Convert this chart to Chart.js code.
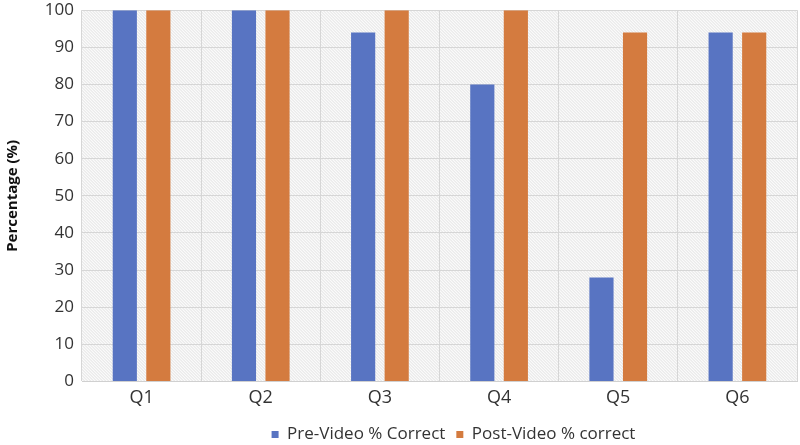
<!DOCTYPE html>
<html><head><meta charset="utf-8">
<script src="https://cdn.jsdelivr.net/npm/chart.js@4.4.0/dist/chart.umd.min.js"></script>
<style>html,body{margin:0;padding:0;background:#fff;overflow:hidden;height:445px}#w{width:800px;height:461px;margin-top:-8px}</style>
</head><body><div id="w"><canvas id="c"></canvas></div>
<script>
const categories = ["Q1","Q2","Q3","Q4","Q5","Q6"];
const preVideo = [100,100,94,80,28,94];
const postVideo = [100,100,100,100,94,94];
const seriesNames = ["Pre-Video % Correct","Post-Video % correct"];

const hatch = {
  id:'hatch',
  beforeDraw(chart){
    const {ctx, chartArea:a} = chart;
    ctx.save();
    ctx.beginPath(); ctx.rect(a.left,a.top,a.right-a.left,a.bottom-a.top); ctx.clip();
    ctx.fillStyle='#fafafa'; ctx.fillRect(a.left,a.top,a.right-a.left,a.bottom-a.top);
    ctx.strokeStyle='#dcdcdc'; ctx.lineWidth=0.8;
    const h=a.bottom-a.top;
    for(let x=a.left-h; x<a.right; x+=3){
      ctx.beginPath(); ctx.moveTo(x,a.top); ctx.lineTo(x+h,a.bottom); ctx.stroke();
    }
    ctx.restore();
  }
};
const legendShift = {
  id:'legendShift',
  afterLayout(chart){
    const l = chart.legend;
    if(l){ l.left += 55; l.right += 55; }
  }
};

new Chart(document.getElementById('c'),{
  type:'bar',
  data:{labels:categories,datasets:[
    {label:seriesNames[0],data:preVideo,backgroundColor:'#5874C2',barPercentage:0.72,categoryPercentage:0.563},
    {label:seriesNames[1],data:postVideo,backgroundColor:'#D47B3F',barPercentage:0.72,categoryPercentage:0.563}
  ]},
  options:{
    responsive:true,maintainAspectRatio:false,animation:false,
    layout:{padding:{top:2,right:3,left:0,bottom:0}},
    plugins:{
      legend:{position:'bottom',labels:{boxWidth:7,boxHeight:7,padding:11,color:'#333',font:{family:'Open Sans',size:17}}},
      tooltip:{enabled:false}
    },
    scales:{
      x:{grid:{color:'#d6d6d6',offset:true,drawTicks:false},border:{color:'#d0d0d0'},
         ticks:{color:'#333',padding:6,font:{family:'Open Sans',size:18}}},
      y:{min:0,max:100,ticks:{stepSize:10,color:'#333',padding:8,font:{family:'Open Sans',size:17}},
         grid:{color:'#d6d6d6',drawTicks:false},border:{display:false},
         title:{display:true,text:'Percentage (%)',color:'#111',font:{family:'Open Sans',size:15,weight:'bold'},padding:{bottom:4}},
         afterFit(s){s.width=82;}}
    }
  },
  plugins:[hatch, legendShift]
});
</script></body></html>
